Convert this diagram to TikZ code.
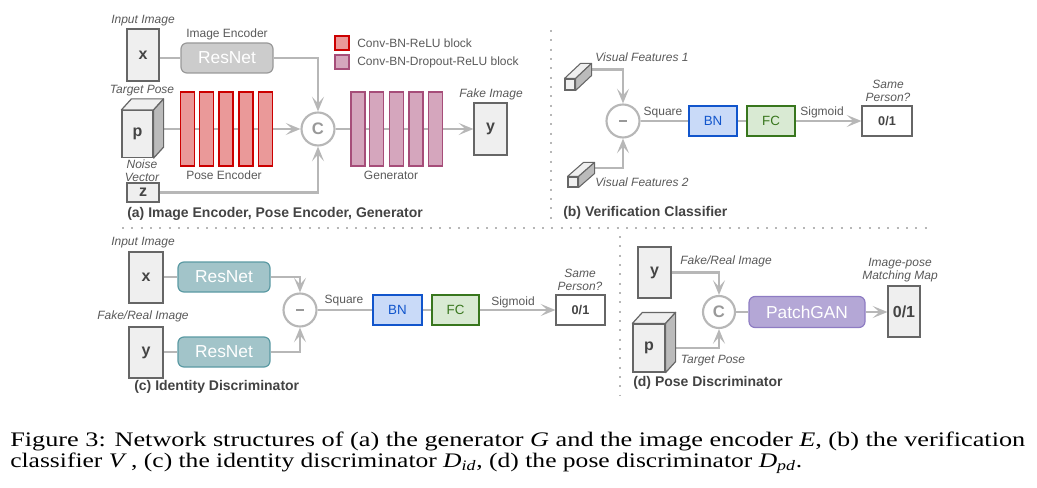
\documentclass[tikz,border=0pt]{standalone}
\usepackage{fontspec}
\setmainfont{Liberation Serif}
\setsansfont{Liberation Sans}
\usetikzlibrary{arrows.meta,backgrounds}
\newdimen\px \px=0.75pt
\definecolor{linegray}{HTML}{B7B7B7}
\definecolor{boxfill}{HTML}{EFEFEF}
\definecolor{boxdraw}{HTML}{666666}
\definecolor{sidegray}{HTML}{BBBBBB}
\definecolor{txtgray}{HTML}{595959}
\definecolor{captgray}{HTML}{434343}
\definecolor{letter}{HTML}{444444}
\definecolor{resgray}{HTML}{CCCCCC}
\definecolor{resgrayd}{HTML}{999999}
\definecolor{tealf}{HTML}{A2C4C9}
\definecolor{teald}{HTML}{5B9AA3}
\definecolor{redf}{HTML}{EA9999}
\definecolor{redd}{HTML}{CC0000}
\definecolor{pinkf}{HTML}{D5A6BD}
\definecolor{pinkd}{HTML}{A64D79}
\definecolor{bnf}{HTML}{C9DAF8}
\definecolor{bnd}{HTML}{1155CC}
\definecolor{fcf}{HTML}{D9EAD3}
\definecolor{fcd}{HTML}{38761D}
\definecolor{purplef}{HTML}{B4A7D6}
\definecolor{purpled}{HTML}{8E7CC3}
\definecolor{circtext}{HTML}{999999}
\begin{document}
\begin{tikzpicture}[x=0.75pt,y=-0.75pt,
  lbl/.style={font=\sffamily\fontsize{9}{9.75}\selectfont, text=txtgray, inner sep=0pt, align=center},
  ilbl/.style={font=\sffamily\itshape\fontsize{9}{9.75}\selectfont, text=txtgray, inner sep=0pt, align=center},
  ptitle/.style={font=\sffamily\bfseries\fontsize{10.5}{11}\selectfont, text=captgray, inner sep=0pt, anchor=west},
  imgbox/.style={draw=boxdraw, fill=boxfill, line width=0.9pt, inner sep=0pt, font=\sffamily\bfseries\fontsize{12}{12}\selectfont, text=letter},
  outbox/.style={imgbox, font=\sffamily\bfseries\fontsize{9.5}{10}\selectfont},
  resnet/.style={rounded corners=4.5pt, line width=0.9pt, inner sep=0pt, minimum width=92\px, minimum height=30\px, text=white, font=\sffamily\fontsize{13}{13}\selectfont},
  blk/.style={inner sep=0pt, minimum width=14\px, minimum height=74\px, line width=0.8pt},
  sbox/.style={inner sep=0pt, minimum height=30\px, line width=0.9pt, font=\sffamily\fontsize{10}{10}\selectfont},
  opcirc/.style={circle, draw=linegray, fill=white, line width=1.6pt, minimum size=33\px, inner sep=0pt, font=\sffamily\bfseries\fontsize{12.5}{12.5}\selectfont, text=circtext},
  ln/.style={draw=linegray, line width=1.9pt},
  arr/.style={ln, -{Stealth[length=11pt,width=9pt,inset=5pt]}},
  sep/.style={draw=linegray, line width=1.6pt, dash pattern=on 1.6pt off 5.4pt},
  topface/.style={fill=boxfill, draw=boxdraw, line width=0.9pt, line join=round},
  sideface/.style={fill=sidegray, draw=boxdraw, line width=0.9pt, line join=round},
  captxt/.style={anchor=base west, inner sep=0pt, font=\rmfamily\fontsize{15.5}{16}\selectfont, text=black},
]
\useasboundingbox (0,0) rectangle (1037,488);

% ---------- (a) ----------
\node[ilbl] (tInA) at (143,21) {Input Image};
\node[imgbox, minimum width=32\px, minimum height=52\px] (xA) at (143,55) {x};
\node[lbl] (tEnc) at (227,34) {Image Encoder};
\node[resnet, fill=resgray, draw=resgrayd] (resA) at (227,58) {ResNet};
\node[blk, minimum height=14\px, fill=redf, draw=redd] (legR) at (342,43) {};
\node[lbl, anchor=west] (legRt) at (357,43) {Conv-BN-ReLU block};
\node[blk, minimum height=14\px, fill=pinkf, draw=pinkd] (legP) at (342,62) {};
\node[lbl, anchor=west] (legPt) at (357,62) {Conv-BN-Dropout-ReLU block};
\node[ilbl] (tTP) at (142,91) {Target Pose};
\node[imgbox, minimum width=31\px, minimum height=47\px] (pA) at (137.5,134) {p};
\foreach \i/\xx in {1/187.5,2/206.5,3/226,4/246,5/265.5}
  \node[blk, fill=redf, draw=redd] (pe\i) at (\xx,129) {};
\node[lbl] (tPE) at (224,175) {Pose Encoder};
\node[opcirc] (cA) at (318,129) {C};
\foreach \i/\xx in {1/358,2/376.5,3/396.5,4/416,5/435.5}
  \node[blk, fill=pinkf, draw=pinkd] (ge\i) at (\xx,129) {};
\node[lbl] (tGen) at (391,175) {Generator};
\node[ilbl] (tFake) at (491,94) {Fake Image};
\node[imgbox, minimum width=33\px, minimum height=52\px] (yA) at (490.5,129) {y};
\node[ilbl] (tNoise) at (142,170.5) {Noise\\Vector};
\node[imgbox, minimum width=32\px, minimum height=19\px] (zA) at (143,192.5) {z};
\node[ptitle] (tA) at (127,214) {(a) Image Encoder, Pose Encoder, Generator};

% ---------- (b) ----------
\node[imgbox, line width=0.8pt, minimum width=10\px, minimum height=11\px] (vf1) at (570,84.5) {};
\node[ilbl] (tVF1) at (642,57) {Visual Features 1};
\node[opcirc] (mB) at (623,121) {\rule[-0.8pt]{5.5pt}{1.7pt}};
\node[imgbox, line width=0.8pt, minimum width=10\px, minimum height=10\px] (vf2) at (573,182) {};
\node[ilbl] (tVF2) at (642,182) {Visual Features 2};
\node[lbl] (tSqB) at (663,113) {Square};
\node[sbox, minimum width=48\px, fill=bnf, draw=bnd, text=bnd] (bnB) at (713,121) {BN};
\node[sbox, minimum width=48\px, fill=fcf, draw=fcd, text=fcd] (fcB) at (771,121) {FC};
\node[lbl] (tSgB) at (822,112) {Sigmoid};
\node[outbox, fill=white, minimum width=50\px, minimum height=30\px] (outB) at (887,121) {0/1};
\node[ilbl] (tSameB) at (888,91) {Same\\Person?};
\node[ptitle] (tB) at (563,213) {(b) Verification Classifier};

% ---------- (c) ----------
\node[ilbl] (tInC) at (143,243) {Input Image};
\node[imgbox, minimum width=34\px, minimum height=51\px] (xC) at (146,277.5) {x};
\node[resnet, fill=tealf, draw=teald] (rC1) at (224,277) {ResNet};
\node[opcirc] (mC) at (300,310) {\rule[-0.8pt]{5.5pt}{1.7pt}};
\node[ilbl] (tFRC) at (143,316) {Fake/Real Image};
\node[imgbox, minimum width=34\px, minimum height=51\px] (yC) at (146,352.5) {y};
\node[resnet, fill=tealf, draw=teald] (rC2) at (224,352) {ResNet};
\node[lbl] (tSqC) at (344,301) {Square};
\node[sbox, minimum width=49\px, fill=bnf, draw=bnd, text=bnd] (bnC) at (397.5,310) {BN};
\node[sbox, minimum width=47\px, fill=fcf, draw=fcd, text=fcd] (fcC) at (455.5,310) {FC};
\node[lbl] (tSgC) at (513,302) {Sigmoid};
\node[outbox, fill=white, minimum width=49\px, minimum height=30\px] (outC) at (580.5,310) {0/1};
\node[ilbl] (tSameC) at (580,280) {Same\\Person?};
\node[ptitle] (tC) at (134,387) {(c) Identity Discriminator};

% ---------- (d) ----------
\node[imgbox, minimum width=33\px, minimum height=51\px] (yD) at (654.5,272.5) {y};
\node[ilbl] (tFRD) at (726,261) {Fake/Real Image};
\node[opcirc, minimum size=32\px] (cD) at (719,312) {C};
\node[imgbox, minimum width=32\px, minimum height=48\px] (pD) at (649,348) {p};
\node[ilbl] (tTPD) at (713,361) {Target Pose};
\node[resnet, minimum width=116\px, minimum height=31\px, fill=purplef, draw=purpled] (pgD) at (807,312) {PatchGAN};
\node[outbox, fill=boxfill, minimum width=32\px, minimum height=51\px, font=\sffamily\bfseries\fontsize{12}{12}\selectfont] (outD) at (904,311.5) {0/1};
\node[ilbl] (tMap) at (900,270) {Image-pose\\Matching Map};
\node[ptitle] (tD) at (633,383) {(d) Pose Discriminator};

% ---------- cube faces ----------
\draw[topface] (pA.north west) -- ++(10,-11) -- ([shift={(10,-11)}]pA.north east) -- (pA.north east) -- cycle;
\draw[sideface] (pA.north east) -- ++(10,-11) -- ([shift={(10,-11)}]pA.south east) -- (pA.south east) -- cycle;
\draw[topface] (pD.north west) -- ++(10,-11) -- ([shift={(10,-11)}]pD.north east) -- (pD.north east) -- cycle;
\draw[sideface] (pD.north east) -- ++(10,-11) -- ([shift={(10,-11)}]pD.south east) -- (pD.south east) -- cycle;
\draw[topface, line width=0.8pt] (vf1.north west) -- ++(16,-15) -- ([shift={(16,-15)}]vf1.north east) -- (vf1.north east) -- cycle;
\draw[sideface, line width=0.8pt] (vf1.north east) -- ++(16,-15) -- ([shift={(16,-15)}]vf1.south east) -- (vf1.south east) -- cycle;
\draw[topface, line width=0.8pt] (vf2.north west) -- ++(16,-14) -- ([shift={(16,-14)}]vf2.north east) -- (vf2.north east) -- cycle;
\draw[sideface, line width=0.8pt] (vf2.north east) -- ++(16,-14) -- ([shift={(16,-14)}]vf2.south east) -- (vf2.south east) -- cycle;

% ---------- connectors ----------
\begin{pgfonlayer}{background}
\draw[ln] (xA.east |- resA.west) -- (resA.west);
\draw[arr] (resA.east) -| (cA.north);
\draw[arr] (pA.center |- cA.west) -- (cA.west);
\draw[arr] (zA.east) -| (cA.south);
\draw[arr] (cA.east) -- (yA.west |- cA.east);

\draw[arr] ([shift={(16,-15)}]vf1.east) -| (mB.north);
\draw[arr] ([shift={(16,-14)}]vf2.east) -| (mB.south);
\draw[ln] (mB.east) -- (bnB.west);
\draw[ln] (bnB.east) -- (fcB.west);
\draw[arr] (fcB.east) -- (outB.west);

\draw[ln] (xC.east |- rC1.west) -- (rC1.west);
\draw[ln] (yC.east |- rC2.west) -- (rC2.west);
\draw[arr] (rC1.east) -| (mC.north);
\draw[arr] (rC2.east) -| (mC.south);
\draw[ln] (mC.east) -- (bnC.west);
\draw[ln] (bnC.east) -- (fcC.west);
\draw[arr] (fcC.east) -- (outC.west);

\draw[arr] (yD.east) -| (cD.north);
\draw[arr] (pD.east) -| (cD.south);
\draw[ln] (cD.east) -- (pgD.west);
\draw[arr] (pgD.east) -- (outD.west |- pgD.east);
\end{pgfonlayer}

% ---------- separators ----------
\draw[sep] (122,228) -- (930,228);
\draw[sep] (551,30) -- (551,224);
\draw[sep] (620,236) -- (620,396);

% ---------- caption ----------
\node[captxt] (cap1) at (10,446) {\resizebox{1015\px}{\height}{Figure 3: Network structures of (a) the generator \textit{G} and the image encoder \textit{E}, (b) the verification}};
\node[captxt] (cap2) at (10,467) {\resizebox{792\px}{\height}{classifier \textit{V}\,, (c) the identity discriminator \textit{D}\textsubscript{\textit{id}}, (d) the pose discriminator \textit{D}\textsubscript{\textit{pd}}.}};
\end{tikzpicture}
\end{document}
